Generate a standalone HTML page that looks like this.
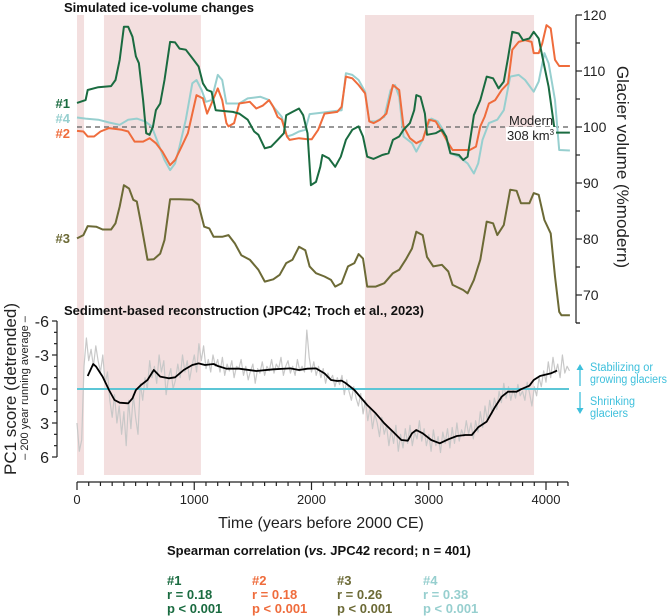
<!DOCTYPE html>
<html><head><meta charset="utf-8"><style>
html,body{margin:0;padding:0;background:#fff;}
svg{display:block;font-family:"Liberation Sans",Arial,sans-serif;}
</style></head><body>
<svg id="chart" width="669" height="616" viewBox="0 0 669 616" xmlns="http://www.w3.org/2000/svg">
<g id="bands"></g>
<g id="series"></g>
<g id="axes"></g>
<g id="labels"></g>
</svg>
<script>
// ---------- DATA ----------
const bandStarts = [0, 230, 2456];
const bandEnds = [60, 1057, 3898];

const s1Years = [0,73,91,182,291,328,364,400,437,473,502,528,564,590,619,648,673,710,746,794,837,874,928,983,1037,1074,1110,1147,1183,1329,1383,1456,1511,1547,1602,1656,1711,1765,1784,1838,1893,1929,1966,1995,2038,2075,2093,2148,2202,2250,2293,2348,2402,2439,2475,2530,2603,2657,2694,2748,2785,2839,2876,2894,2930,2967,2985,3058,3112,3149,3185,3258,3294,3331,3385,3440,3494,3549,3596,3640,3676,3713,3767,3804,3858,3895,3938,3986,4022,4077,4204];
const s1Values = [104.3,104.8,106.6,107.1,107.3,108.4,112.0,117.9,117.9,116.1,112.6,111.4,104.8,98.9,98.6,100.1,103.0,104.2,108.4,115.2,115.1,114.0,113.8,112.3,110.8,107.8,106.6,106.3,103.0,102.7,102.4,101.3,99.2,98.6,96.2,96.5,97.7,98.9,102.1,102.7,103.3,102.1,98.9,89.6,90.2,92.9,95.0,94.4,92.9,94.7,97.7,99.5,100.1,98.3,94.7,94.3,95.0,95.3,97.7,98.3,99.5,100.7,103.0,105.7,105.4,102.4,98.6,98.9,99.5,98.3,95.3,95.0,94.1,94.7,102.1,104.8,109.0,108.7,106.9,108.1,112.3,117.0,116.7,115.5,115.8,117.0,115.8,110.8,107.2,99.0,99.0];

const s2Years = [0,55,91,146,200,273,382,437,491,564,619,673,728,794,837,892,946,983,1019,1074,1110,1147,1201,1238,1274,1292,1340,1383,1474,1529,1583,1638,1674,1711,1747,1791,1813,1893,1966,2002,2057,2111,2220,2257,2293,2348,2402,2457,2493,2530,2584,2639,2694,2748,2785,2839,2894,2948,3003,3058,3112,3167,3203,3349,3403,3440,3476,3513,3567,3622,3676,3713,3767,3822,3877,3895,3938,3968,4004,4040,4077,4113,4204];
const s2Values = [99.3,99.2,98.3,98.3,99.2,99.8,99.5,99.2,97.4,97.4,98.0,97.1,95.6,93.2,94.1,96.5,98.9,102.4,105.7,105.1,102.4,104.2,106.9,104.8,100.7,100.1,100.7,104.2,104.5,103.3,103.8,104.8,103.6,101.8,101.3,98.3,97.7,98.0,97.8,97.8,99.5,102.4,102.7,103.6,109.0,108.7,107.5,106.0,101.0,100.7,101.3,102.4,107.5,106.6,100.1,98.0,97.1,97.7,101.3,101.0,99.2,97.1,95.9,95.9,96.5,100.1,101.8,104.2,104.8,106.6,107.8,113.8,115.2,115.5,115.2,113.2,113.2,114.9,118.2,117.6,112.0,110.9,110.9];

const s3Years = [0,55,91,164,218,291,328,364,400,444,480,510,546,601,655,710,746,794,874,983,1037,1085,1128,1165,1238,1292,1347,1401,1474,1547,1602,1674,1729,1784,1838,1893,1947,1984,2038,2111,2166,2202,2257,2311,2366,2402,2439,2475,2548,2621,2694,2748,2803,2857,2894,2948,2985,3039,3112,3167,3203,3294,3331,3385,3440,3494,3549,3585,3640,3695,3749,3786,3858,3895,3938,3986,4040,4077,4113,4131,4204];
const s3Values = [80.1,80.7,82.3,82.2,81.7,81.7,82.8,85.8,89.6,89.0,87.0,86.7,82.8,76.3,76.4,77.4,79.8,87.1,87.1,87.0,86.1,82.2,81.9,80.4,80.4,80.7,79.2,77.1,76.3,74.5,72.4,72.8,73.6,75.7,76.3,78.6,78.0,75.1,73.9,73.3,72.7,71.5,72.1,75.1,75.7,77.3,76.5,71.5,71.5,72.1,73.9,74.5,76.3,78.3,81.3,80.7,76.8,75.1,75.4,74.2,71.8,70.9,70.3,72.7,76.3,83.1,82.8,80.7,82.5,88.8,88.6,86.4,86.4,88.2,87.9,83.4,81.0,73.3,67.0,66.4,66.4];

const s4Years = [0,73,182,273,364,437,510,582,637,692,746,794,837,874,928,983,1019,1063,1099,1147,1201,1238,1274,1383,1456,1565,1638,1674,1747,1791,1838,1893,1947,1984,2111,2257,2293,2348,2402,2457,2493,2548,2621,2675,2712,2748,2785,2857,2894,2948,2985,3021,3076,3130,3185,3258,3331,3385,3422,3458,3513,3585,3640,3695,3767,3822,3895,3938,3986,4022,4077,4113,4204];
const s4Values = [101.7,101.5,101.3,100.8,100.4,101.3,101.5,101.0,100.1,97.1,94.1,92.3,93.5,96.5,101.3,107.8,108.4,106.6,104.5,104.8,109.3,108.4,104.2,104.2,105.1,105.4,104.8,103.6,101.8,98.3,98.6,99.2,99.5,102.3,102.6,103.0,109.6,109.3,108.4,106.3,101.0,101.0,101.8,106.6,107.5,105.4,98.3,97.1,95.6,97.7,100.1,101.5,101.0,99.2,95.3,94.7,93.5,91.7,93.5,97.7,100.7,101.3,103.0,109.0,109.3,108.4,106.3,108.1,113.2,111.4,104.8,95.9,95.8];

const avgYears = [91,138,164,218,273,320,364,437,473,502,546,601,655,710,783,837,910,983,1037,1092,1165,1201,1274,1383,1529,1674,1820,1893,1966,2038,2111,2166,2220,2257,2293,2366,2475,2548,2621,2694,2766,2821,2857,2894,2948,3021,3094,3167,3240,3312,3367,3422,3494,3567,3622,3676,3749,3786,3858,3895,3949,4040,4095];
const avgValues = [-1.15,-2.21,-1.97,-1.09,0.09,0.97,1.21,1.26,0.82,0.09,-0.35,-0.79,-1.68,-1.09,-0.94,-1.03,-1.68,-2.12,-2.26,-2.12,-2.21,-2.03,-1.79,-1.79,-1.59,-1.74,-1.82,-1.68,-1.79,-1.82,-1.38,-0.79,-0.71,-0.74,-0.50,0.09,1.41,2.15,3.03,3.76,4.50,4.56,3.91,3.62,3.91,4.50,4.79,4.44,4.15,4.06,4.06,3.38,2.88,1.56,0.68,0.24,0.24,0.03,-0.29,-0.79,-1.15,-1.38,-1.62];

const rawStep = 20;
const rawValues = [
3.0,5.5,4.5,-2.0,-4.5,-2.5,-3.5,-2.0,-3.8,-2.5,
-1.5,-3.0,-0.5,-1.5,1.0,2.5,0.5,3.0,1.5,4.0,
2.0,5.0,1.0,3.5,0.5,2.5,4.0,-0.5,1.0,-1.0,
0.0,-2.5,-1.0,-2.0,-0.5,-3.0,-1.5,-2.5,0.5,-1.0,
-1.8,0.0,-0.8,-2.2,-1.0,-3.0,-1.5,-2.5,-0.8,-2.0,
-3.0,-1.5,-4.0,-2.5,-3.8,-1.8,-2.6,-1.5,-3.0,-2.0,
-2.6,-1.5,-2.8,-1.2,-2.2,-1.6,-2.5,-1.0,-2.0,-1.8,
-2.6,-1.2,-2.0,-0.8,-1.6,-2.2,-0.5,-1.8,-1.4,-2.4,
-1.2,-2.0,-1.6,-2.6,-1.4,-2.2,-1.8,-2.8,-1.2,-2.0,
-2.5,-1.4,-2.0,-1.2,-2.6,-1.6,-2.0,-1.5,-5.2,-2.8,
-1.5,-2.4,-1.2,-2.0,-1.0,-1.8,-0.5,-1.4,-0.8,-1.2,
-0.2,-1.0,-0.4,-1.2,0.5,-0.8,0.2,1.0,-0.2,0.8,
1.5,0.4,2.2,1.0,2.8,1.6,3.5,2.2,3.0,4.2,
2.5,4.0,3.2,5.0,3.6,4.8,3.2,5.5,4.0,5.2,
3.5,4.8,3.2,5.0,3.8,4.4,2.8,4.6,3.5,5.0,
4.0,5.5,3.6,5.0,4.2,5.6,3.8,4.8,3.5,5.2,
3.4,4.8,3.0,4.6,3.6,4.2,2.8,4.0,3.0,4.4,
2.8,3.8,2.0,3.4,1.5,2.8,1.0,2.2,0.8,1.8,
0.2,1.2,-0.5,0.8,-0.2,1.0,0.0,0.8,-0.4,0.6,
0.2,1.0,-0.6,0.4,1.5,-0.2,0.6,-1.0,-0.2,-1.6,
-0.6,-2.4,-1.0,-2.8,-1.4,-2.2,-1.0,-3.0,-1.4,-2.0,
-1.6];

const volTicks = [120,110,100,90,80,70];
const pcTicks = [-6,-3,0,3,6];
const yearTicks = [0,1000,2000,3000,4000];

// ---------- AXES FUNCTIONS ----------
const X0 = 77, PXPERYR = 0.11725;
const xs = y => X0 + y * PXPERYR;
const yVol = v => 15 + (120 - v) * 5.6;
const yPC = v => 389 + v * (34 / 3);
const NS = 'http://www.w3.org/2000/svg';
function mk(parent, tag, attrs) {
  const e = document.createElementNS(NS, tag);
  for (const k in attrs) e.setAttribute(k, attrs[k]);
  parent.appendChild(e);
  return e;
}
const bands = document.getElementById('bands');
const series = document.getElementById('series');
const axes = document.getElementById('axes');

bandStarts.forEach((s, i) => {
  const r = mk(bands, 'rect', {x: xs(s), y: 15, width: xs(bandEnds[i]) - xs(s), height: 460, fill: '#f3dfdf'});
  
  
});

const dl = mk(series, 'line', {x1: 77, x2: 570, y1: yVol(100), y2: yVol(100), stroke: '#777', 'stroke-width': 1.5, 'stroke-dasharray': '5,4'});



function line(yrs, vals, yf, color, w, name) {
  const d = yrs.map((yr, i) => (i ? 'L' : 'M') + xs(yr).toFixed(1) + ',' + yf(vals[i]).toFixed(1)).join('');
  const p = mk(series, 'path', {d: d, fill: 'none', stroke: color, 'stroke-width': w, 'stroke-linejoin': 'round'});
  
  
  return p;
}
const rawYears = rawValues.map((v, i) => i * rawStep);
line(rawYears, rawValues, yPC, '#c8c8c8', 1.2, 'raw-pc1-series');
const zl = mk(series, 'line', {x1: 77, x2: 569, y1: yPC(0), y2: yPC(0), stroke: '#5cc6d6', 'stroke-width': 2});


line(avgYears, avgValues, yPC, '#000', 1.8, 'running-average-series');
line(s4Years, s4Values, yVol, '#97cfcf', 2, 'series-4');
line(s2Years, s2Values, yVol, '#ef6c3c', 2, 'series-2');
line(s1Years, s1Values, yVol, '#1a6b40', 2, 'series-1');
line(s3Years, s3Values, yVol, '#6c6a36', 2, 'series-3');

const ra = mk(axes, 'path', {d: 'M576,15V323', stroke: '#222', 'stroke-width': 1.2, fill: 'none'});


for (let v = 120; v >= 65; v -= 5) {
  mk(axes, 'line', {x1: 576, x2: v % 10 === 0 ? 582 : 580, y1: yVol(v), y2: yVol(v), stroke: '#222', 'stroke-width': 1.2});
}
mk(axes, 'line', {x1: 576, x2: 580, y1: 323, y2: 323, stroke: '#222', 'stroke-width': 1.2});
volTicks.forEach(v => {
  const t = mk(axes, 'text', {x: 583, y: yVol(v) + 5, 'font-size': 14, fill: '#222'});
  t.textContent = v;
  
  
});
const la = mk(axes, 'path', {d: 'M57,321V457', stroke: '#222', 'stroke-width': 1.2, fill: 'none'});


for (let v = -6; v <= 6; v++) {
  mk(axes, 'line', {x1: 57, x2: v % 3 === 0 ? 52 : 54, y1: yPC(v), y2: yPC(v), stroke: '#222', 'stroke-width': 1.2});
}
pcTicks.forEach(v => {
  const t = mk(axes, 'text', {x: 49, y: yPC(v) + 6, 'font-size': 16, fill: '#222', 'text-anchor': 'end'});
  t.textContent = v;
  
  
});
const ba = mk(axes, 'path', {d: 'M77,482H568', stroke: '#222', 'stroke-width': 1.2, fill: 'none'});


for (let yr = 0; yr <= 4100; yr += 100) {
  mk(axes, 'line', {x1: xs(yr), x2: xs(yr), y1: 482, y2: yr % 1000 === 0 ? 490 : 486, stroke: '#222', 'stroke-width': 1.2});
}
mk(axes, 'line', {x1: 568, x2: 568, y1: 482, y2: 486, stroke: '#222', 'stroke-width': 1.2});
yearTicks.forEach(yr => {
  const t = mk(axes, 'text', {x: xs(yr), y: 504, 'font-size': 13, fill: '#222', 'text-anchor': 'middle'});
  t.textContent = yr;
  
  
});
</script>
<script>
(function(){
const L = document.getElementById('labels');
L.innerHTML = `
<text x="64" y="12" font-size="13" font-weight="bold" textLength="190" lengthAdjust="spacingAndGlyphs" fill="#111">Simulated ice-volume changes</text>
<text x="64" y="315" font-size="13" font-weight="bold" textLength="360" lengthAdjust="spacingAndGlyphs" fill="#111">Sediment-based reconstruction (JPC42; Troch et al., 2023)</text>
<text transform="translate(617,167) rotate(90)" text-anchor="middle" font-size="17" fill="#222">Glacier volume (%modern)</text>
<text transform="translate(16,389) rotate(-90)" text-anchor="middle" font-size="17" fill="#222">PC1 score (detrended)</text>
<text transform="translate(28,388) rotate(-90)" text-anchor="middle" font-size="11" fill="#222">– 200 year running average –</text>
<text x="321" y="528" text-anchor="middle" font-size="16" fill="#222">Time (years before 2000 CE)</text>
<text x="70" y="108" text-anchor="end" font-size="13" font-weight="bold" fill="#1a6b40">#1</text>
<text x="70" y="123" text-anchor="end" font-size="13" font-weight="bold" fill="#97cfcf">#4</text>
<text x="70" y="138" text-anchor="end" font-size="13" font-weight="bold" fill="#ef6c3c">#2</text>
<text x="70" y="243" text-anchor="end" font-size="13" font-weight="bold" fill="#6c6a36">#3</text>
<rect x="506" y="127" width="50" height="14" fill="#fff"/>
<text x="509" y="125" font-size="13" fill="#222">Modern</text>
<text x="507" y="140" font-size="13" fill="#222">308 km<tspan font-size="8" dy="-5">3</tspan></text>
<g stroke="#3fc0dc" stroke-width="1.3" fill="#3fc0dc">
<line x1="580" y1="386" x2="580" y2="369"/><path d="M576.5,370 L580,364 L583.5,370Z" stroke="none"/>
<line x1="580" y1="392" x2="580" y2="409"/><path d="M576.5,408 L580,414 L583.5,408Z" stroke="none"/>
</g>
<g font-size="11.5" fill="#3fc0dc">
<text x="590" y="371" textLength="63" lengthAdjust="spacingAndGlyphs">Stabilizing or</text>
<text x="590" y="383" textLength="77" lengthAdjust="spacingAndGlyphs">growing glaciers</text>
<text x="590" y="405" textLength="45" lengthAdjust="spacingAndGlyphs">Shrinking</text>
<text x="590" y="417" textLength="38" lengthAdjust="spacingAndGlyphs">glaciers</text>
</g>
<text x="167" y="555" font-size="13" font-weight="bold" fill="#111">Spearman correlation (<tspan font-style="italic">vs.</tspan> JPC42 record; n = 401)</text>
<g font-size="13" font-weight="bold">
<g fill="#1a6b40"><text x="167" y="585">#1</text><text x="167" y="599">r = 0.18</text><text x="167" y="613">p &lt; 0.001</text></g>
<g fill="#ef6c3c"><text x="252" y="585">#2</text><text x="252" y="599">r = 0.18</text><text x="252" y="613">p &lt; 0.001</text></g>
<g fill="#6c6a36"><text x="337" y="585">#3</text><text x="337" y="599">r = 0.26</text><text x="337" y="613">p &lt; 0.001</text></g>
<g fill="#97cfcf"><text x="423" y="585">#4</text><text x="423" y="599">r = 0.38</text><text x="423" y="613">p &lt; 0.001</text></g>
</g>`;
})();
</script>
</body></html>
